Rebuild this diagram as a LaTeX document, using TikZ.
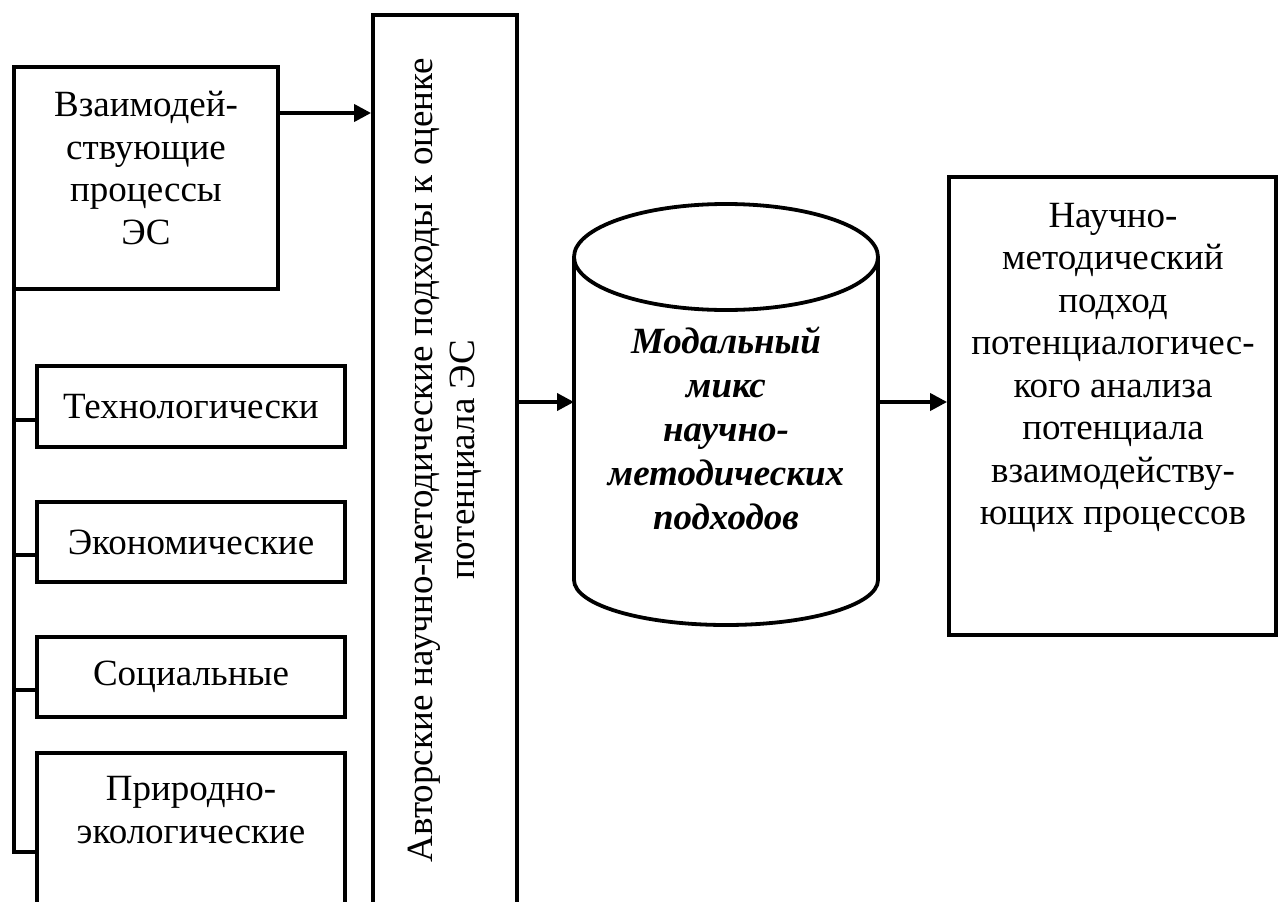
\documentclass[tikz,border=0pt]{standalone}
\usepackage{fontspec}
\setmainfont{Liberation Serif}
\usetikzlibrary{arrows.meta,calc}

\tikzset{
  ln/.style={line width=3.8pt},
  box/.style={ln, draw, rectangle, inner sep=0pt},
  txt/.style={align=center, inner sep=0pt, font=\fontsize{37}{42.5}\selectfont},
  arr/.style={ln, -{Triangle[length=17pt,width=17pt]}},
}

\begin{document}
\begin{tikzpicture}[x=1pt,y=-1pt]
\clip (0,0) rectangle (1280,902);
\fill[white] (0,0) rectangle (1280,902);

% left column: the process box and its four kinds
\node[box, minimum width=264pt, minimum height=222pt] (proc) at (146,178) {};
\node[txt] (proct) at (146,168) {Взаимодей-\\ствующие\\процессы\\ЭС};

\node[box, minimum width=308pt, minimum height=81pt] (tech) at (191,406.5) {};
\node[txt] (techt) at (tech.center) {Технологически};
\node[box, minimum width=308pt, minimum height=80pt] (econ) at (191,542) {};
\node[txt] (econt) at (econ.center) {Экономические};
\node[box, minimum width=308pt, minimum height=80pt] (soc) at (191,677) {};
\node[txt] (soct) at (soc.center) {Социальные};
\node[box, minimum width=308pt, minimum height=167pt] (nat) at (191,836.5) {};
\node[txt] (natt) at (191,810) {Природно-\\экологические};

% bus on the left edge
\coordinate (busTop) at (14,265);
\coordinate (busBot) at (14,852);
\draw[ln] (busTop) -- (busBot) -- (nat.west |- busBot);
\draw[ln] (busTop |- 0,420) -- (tech.west |- 0,420);
\draw[ln] (busTop |- 0,555) -- (econ.west |- 0,555);
\draw[ln] (busTop |- 0,690) -- (soc.west |- 0,690);

% tall box with the authors' approaches
\node[box, minimum width=144pt, minimum height=905pt] (auth) at (445,467.5) {};
\node[txt, rotate=90] (autht) at (445,460)
  {Авторские научно-методические подходы к оценке\\потенциала ЭС};

% cylinder
\coordinate (cylW) at (574,402);
\coordinate (cylE) at (878,402);
\draw[ln] (726,257) ellipse [x radius=152pt, y radius=53pt];
\draw[ln] (574,257) -- (574,580) arc[start angle=180, end angle=360, x radius=152pt, y radius=45pt] -- (878,257);
\node[txt, font=\fontsize{37}{44}\selectfont\bfseries\itshape] (cylt) at (726,428)
  {Модальный\\микс\\научно-\\методических\\подходов};

% result box
\node[box, minimum width=327pt, minimum height=458pt] (res) at (1112.5,406) {};
\node[txt] (rest) at (1113,368)
  {Научно-\\методический\\подход\\потенциалогичес-\\кого анализа\\потенциала\\взаимодейству-\\ющих процессов};

% connectors
\draw[arr] (proc.east |- 0,113) -- (auth.west |- 0,113);
\draw[arr] (auth.east |- cylW) -- (cylW);
\draw[arr] (cylE) -- (res.west |- cylE);
\end{tikzpicture}
\end{document}
